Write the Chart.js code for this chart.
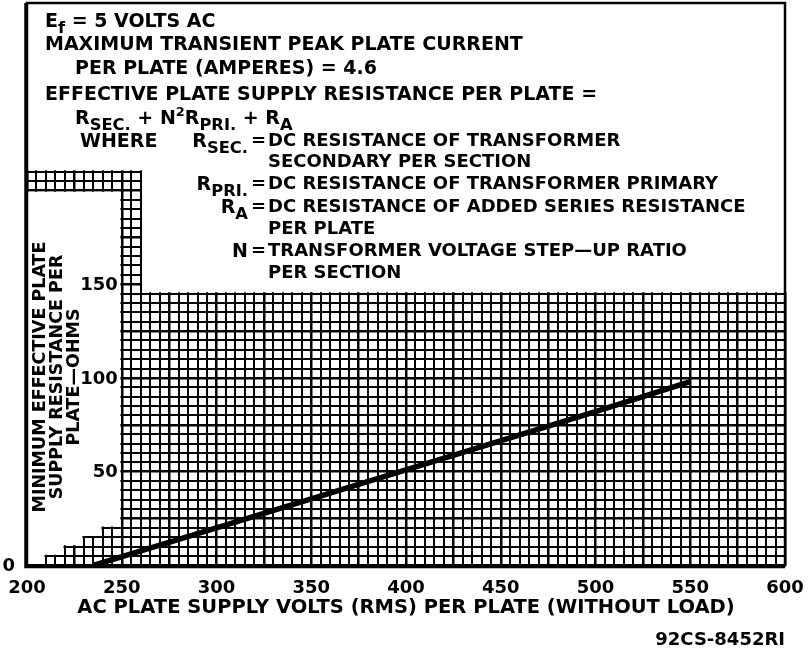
<!DOCTYPE html>
<html>
<head>
<meta charset="utf-8">
<script src="https://cdn.jsdelivr.net/npm/chart.js@4.4.0/dist/chart.umd.min.js"></script>
<style>
  html, body { margin: 0; padding: 0; background: #fff; }
  #wrap { width: 811px; height: 657px; }
</style>
</head>
<body>
<div id="wrap"><canvas id="chart"></canvas></div>
<script>
// curve: plate volts vs minimum plate resistance (ohms)
const plateVolts = [235, 300, 400, 500, 550];
const minOhms = [0, 20, 51, 82, 98];

// labelled ticks and texts
const xTickLabels = [200, 250, 300, 350, 400, 450, 500, 550, 600];
const yTickLabels = [0, 50, 100, 150];
const xTitle = 'AC PLATE SUPPLY VOLTS (RMS) PER PLATE (WITHOUT LOAD)';
const yTitle = ['MINIMUM EFFECTIVE PLATE', 'SUPPLY RESISTANCE PER', 'PLATE\u2014OHMS'];
const drawingNo = '92CS-8452RI';

// notes box, _{..} = subscript, ^{..} = superscript
const noteLines = [
  'E_{f} = 5 VOLTS AC',
  'MAXIMUM TRANSIENT PEAK PLATE CURRENT',
  'PER PLATE (AMPERES) = 4.6',
  'EFFECTIVE PLATE SUPPLY RESISTANCE PER PLATE =',
  'R_{SEC.} + N^{2}R_{PRI.} + R_{A}',
];
const noteTerms = [
  ['R_{SEC.}', 'DC RESISTANCE OF TRANSFORMER', 'SECONDARY PER SECTION'],
  ['R_{PRI.}', 'DC RESISTANCE OF TRANSFORMER PRIMARY'],
  ['R_{A}', 'DC RESISTANCE OF ADDED SERIES RESISTANCE', 'PER PLATE'],
  ['N', 'TRANSFORMER VOLTAGE STEP\u2014UP RATIO', 'PER SECTION'],
];

const FONT = 'DejaVu Sans';

function parseRich(text) {
  const parts = [];
  const re = /([_^])\{([^}]*)\}/g;
  let last = 0, m;
  while ((m = re.exec(text))) {
    if (m.index > last) parts.push({ t: text.slice(last, m.index), mode: 'n' });
    parts.push({ t: m[2], mode: m[1] === '_' ? 'sub' : 'sup' });
    last = re.lastIndex;
  }
  if (last < text.length) parts.push({ t: text.slice(last), mode: 'n' });
  return parts;
}

function partSize(mode, size) {
  if (mode === 'sub') return size * 0.86;
  if (mode === 'sup') return size * 0.68;
  return size;
}

function richWidth(ctx, text, size) {
  let w = 0;
  parseRich(text).forEach((p) => {
    ctx.font = 'bold ' + partSize(p.mode, size) + 'px "' + FONT + '"';
    w += ctx.measureText(p.t).width;
  });
  return w;
}

// y is the middle of the capitals
function drawRich(ctx, text, x, y, size, align) {
  if (align === 'right') x -= richWidth(ctx, text, size);
  const base = y + size * 0.36;
  ctx.textAlign = 'left';
  ctx.textBaseline = 'alphabetic';
  parseRich(text).forEach((p) => {
    const s = partSize(p.mode, size);
    ctx.font = 'bold ' + s + 'px "' + FONT + '"';
    let off = 0;
    if (p.mode === 'sub') off = size * 0.34;
    if (p.mode === 'sup') off = -size * 0.42;
    ctx.fillText(p.t, x, base + off);
    x += ctx.measureText(p.t).width;
  });
}

function fillPoly(ctx, pts) {
  ctx.beginPath();
  pts.forEach((p, i) => (i ? ctx.lineTo(p[0], p[1]) : ctx.moveTo(p[0], p[1])));
  ctx.closePath();
  ctx.fill();
}

const chartDecor = {
  id: 'chartDecor',
  beforeDatasetsDraw(chart) {
    const { ctx, chartArea: a, scales: { x, y } } = chart;
    const X = (v) => x.getPixelForValue(v);
    const Y = (v) => y.getPixelForValue(v);
    const d = 1.4;
    ctx.save();
    ctx.fillStyle = '#fff';

    // blank area that holds the notes
    fillPoly(ctx, [
      [a.left - 2, a.top - 2], [a.right + 2, a.top - 2],
      [a.right + 2, Y(145) - d], [X(260) + d, Y(145) - d],
      [X(260) + d, Y(210) - d], [a.left - 2, Y(210) - d],
    ]);

    // blank column on the left with the stepped foot
    const foot = [[200, 200], [250, 200], [250, 20], [240, 20], [240, 15], [230, 15],
      [230, 10], [220, 10], [220, 5], [210, 5], [210, 0], [200, 0]];
    fillPoly(ctx, foot.map(([vx, vy]) => [
      vx > 200 ? X(vx) - d : a.left - 2,
      vy < 200 ? Y(vy) - d : Y(vy) + d,
    ]));

    // frame
    ctx.strokeStyle = '#000';
    ctx.lineWidth = 2.5;
    ctx.strokeRect(a.left, a.top, a.right - a.left, a.bottom - a.top);
    ctx.lineWidth = 3.5;
    ctx.beginPath();
    ctx.moveTo(a.left - 1, a.top);
    ctx.lineTo(a.left - 1, a.bottom + 1);
    ctx.lineTo(a.right, a.bottom + 1);
    ctx.stroke();

    ctx.fillStyle = '#000';
    const fs = 19;
    const ft = 18;

    // notes
    const rows = [20, 43, 67, 93, 117];
    const lefts = [45, 45, 75, 45, 75];
    noteLines.forEach((t, i) => drawRich(ctx, t, lefts[i], rows[i], fs, 'left'));
    const termRows = [[140, 161], [183], [206, 228], [250, 272]];
    noteTerms.forEach((term, i) => {
      const r = termRows[i];
      if (i === 0) drawRich(ctx, 'WHERE', 80, r[0], fs, 'left');
      drawRich(ctx, term[0], 248, r[0], fs, 'right');
      drawRich(ctx, '=', 251, r[0], ft, 'left');
      drawRich(ctx, term[1], 268, r[0], ft, 'left');
      if (term[2]) drawRich(ctx, term[2], 268, r[1], ft, 'left');
    });

    // y tick labels sit inside the blank column
    ctx.font = 'bold 18px "' + FONT + '"';
    ctx.textAlign = 'right';
    ctx.textBaseline = 'middle';
    yTickLabels.forEach((v) => {
      const px = v === 0 ? a.left - 12 : X(250) - 4;
      ctx.fillText(String(v), px, Y(v) + 1);
    });

    // y title
    ctx.font = 'bold 17.5px "' + FONT + '"';
    ctx.textAlign = 'center';
    const cols = [40, 57, 74];
    yTitle.forEach((t, i) => {
      ctx.save();
      ctx.translate(cols[i], 377);
      ctx.rotate(-Math.PI / 2);
      ctx.fillText(t, 0, 0);
      ctx.restore();
    });

    // x title and drawing number
    ctx.font = 'bold 19.5px "' + FONT + '"';
    ctx.textAlign = 'center';
    ctx.fillText(xTitle, (a.left + a.right) / 2, 608);
    ctx.font = 'bold 18px "' + FONT + '"';
    ctx.textAlign = 'right';
    ctx.fillText(drawingNo, a.right, 640);
    ctx.restore();
  },
};

const gridWidth = (c) => (c.tick && Math.round(c.tick.value) % 25 === 0 ? 2.5 : 2.0);

new Chart(document.getElementById('chart'), {
  type: 'line',
  data: {
    datasets: [{
      data: plateVolts.map((v, i) => ({ x: v, y: minOhms[i] })),
      borderColor: '#000',
      borderWidth: 5.5,
      pointRadius: 0,
      tension: 0,
      clip: false,
    }],
  },
  options: {
    responsive: true,
    maintainAspectRatio: false,
    animation: false,
    layout: { padding: { left: 27, right: 26, top: 3, bottom: 46 } },
    plugins: { legend: { display: false }, tooltip: { enabled: false } },
    scales: {
      x: {
        type: 'linear',
        min: 200,
        max: 600,
        grid: { color: '#000', lineWidth: gridWidth, drawTicks: false },
        border: { display: false },
        // the end labels may hang over the padding
        afterFit: (scale) => {
          scale.paddingLeft = 0;
          scale.paddingRight = 0;
        },
        ticks: {
          stepSize: 5,
          autoSkip: false,
          maxRotation: 0,
          padding: 12,
          color: '#000',
          font: { family: FONT, weight: 'bold', size: 18 },
          callback: (v) => (xTickLabels.includes(Math.round(v)) && Math.abs(v - Math.round(v)) < 1e-6 ? String(Math.round(v)) : ''),
        },
      },
      y: {
        type: 'linear',
        min: 0,
        max: 300,
        grid: { color: '#000', lineWidth: gridWidth, drawTicks: false },
        border: { display: false },
        ticks: { stepSize: 5, display: false },
      },
    },
  },
  plugins: [chartDecor],
});
</script>
</body>
</html>
